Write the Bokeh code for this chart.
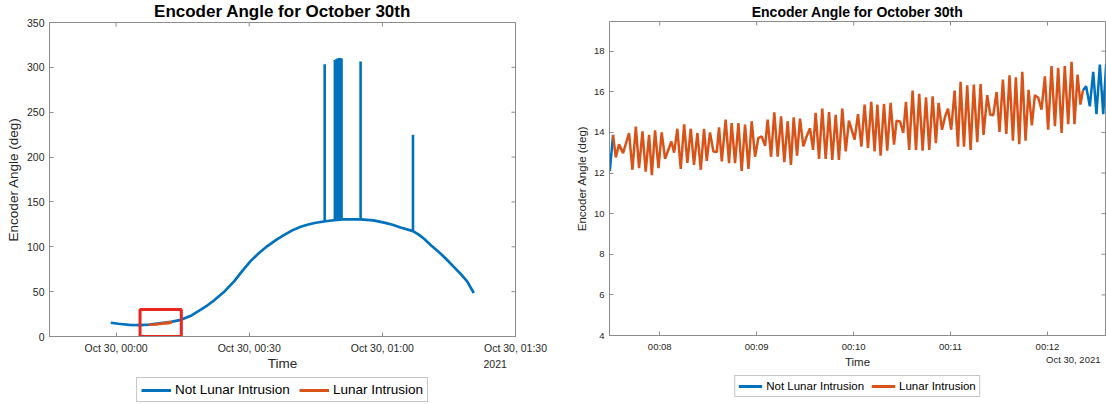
import numpy as np
from bokeh.plotting import figure
from bokeh.layouts import row, column
from bokeh.models import (Range1d, FixedTicker, DatetimeTickFormatter, Legend, LegendItem,
                          Label, Title)
from bokeh.embed import file_html
from bokeh.resources import INLINE

# ---------------- data ----------------
DAY = "2021-10-30T00:00:00"
TITLE = "Encoder Angle for October 30th"
SERIES = ["Not Lunar Intrusion", "Lunar Intrusion"]

# overview trace (minutes after Oct 30 00:00, degrees)
overview_min = [-1.2, 0.5, 3.0, 5.5, 7.5, 12.4, 14.6, 17.0, 19.1, 20.6, 22.1, 24.5, 26.6, 28.5,
                30.3, 32.2, 34.1, 36.0, 37.8, 39.7, 41.6, 43.3, 45.0, 48.0, 51.0, 55.0, 58.0,
                60.4, 62.3, 64.1, 66.9, 68.2, 69.4, 71.0, 73.1, 74.6, 76.1, 77.6, 79.1, 80.6]
overview_deg = [15.3, 14.2, 13.0, 12.6, 13.2, 16.3, 18.6, 23.5, 29.9, 34.8, 40.3, 50.5, 61.5, 73.5,
                84.0, 93.0, 100.8, 107.5, 113.0, 118.3, 122.3, 124.8, 126.8, 129.0, 130.5, 130.5,
                129.5, 126.9, 124.5, 121.5, 117.5, 113.5, 109.0, 101.5, 92.6, 85.3, 77.6, 70.0,
                61.5, 48.5]
# spikes in the overview trace
spike_min = [47.0, 49.3, 49.6, 49.9, 50.2, 50.5, 50.8, 55.1, 66.9]
spike_base_deg = [128.0, 129.5, 129.7, 130.0, 130.0, 130.0, 130.0, 130.5, 118.0]
spike_peak_deg = [303.5, 308.3, 309.0, 310.0, 310.5, 310.5, 310.0, 306.5, 225.0]

# detailed trace (seconds after 00:07:00, degrees)
ZOOM_ORIGIN_MIN = 7
pre_sec = [27.6, 29.1, 31.1]
pre_deg = [12.77, 12.11, 13.88]
lunar_sec = [31.1, 32.8, 34.8, 37.3, 41.0, 43.1, 45.2, 47.2, 49.3, 51.3,
             53.4, 55.1, 57.1, 59.2, 61.2, 63.3, 67.2, 68.9, 70.9, 73.0,
             75.1, 77.1, 79.2, 81.2, 83.3, 85.4, 87.4, 89.1, 91.1, 93.2,
             95.3, 96.7, 98.4, 100.8, 102.9,
             104.5, 106.6, 108.7, 110.7, 112.8, 114.9, 116.9, 119.0, 121.0, 123.1,
             125.2, 126.8, 128.9, 130.9, 133.0, 135.1, 137.1, 139.2, 141.2, 142.9,
             145.0, 146.8, 148.9, 150.9, 153.0, 154.9, 156.5, 158.6, 160.6, 162.7,
             164.8, 166.8, 168.9, 170.9, 173.0, 175.1, 177.1,
             180.6, 182.7, 184.8, 186.8, 188.9, 190.9, 193.0, 194.7, 196.7, 198.8,
             200.8, 202.9, 205.0, 206.6, 208.7, 210.7, 212.4, 214.4, 216.5, 218.6,
             220.6, 222.7, 224.8, 226.8, 228.9, 230.9, 232.6, 234.7, 236.7, 238.4,
             240.4, 242.5, 244.6, 246.2, 248.3, 250.3, 252.4, 254.4, 256.5,
             258.6, 260.4, 262.7, 264.6, 266.4, 268.5, 270.3, 272.4, 274.5, 276.5,
             278.6, 280.4, 282.5, 284.4, 286.4, 288.3, 290.3, 292.2, 294.3, 296.3,
             298.4, 300.4, 302.5, 304.6, 306.6, 308.7, 310.7, 312.8, 314.9, 316.7,
             318.6, 320.4, 321.9]
lunar_deg = [13.88, 12.77, 13.42, 12.98, 13.97, 12.16, 14.28, 12.24, 14.05, 12.07,
             13.88, 11.9, 14.1, 12.24, 14.0, 12.7, 13.55, 13.0, 14.18, 12.2,
             14.4, 12.5, 14.18, 12.4, 13.97, 12.16, 14.18, 12.6, 14.0, 13.06,
             13.03, 14.25, 12.57, 14.63, 12.49,
             14.46, 12.49, 14.46, 12.1, 14.38, 12.2, 14.55, 12.8, 13.72, 13.8,
             13.34, 14.63, 12.8, 14.99, 12.8, 14.79, 12.54, 14.55, 12.4, 14.74,
             12.86, 14.68, 13.31, 13.8, 14.2, 13.14, 14.96, 12.7, 15.17, 12.7,
             15.0, 12.65, 14.87, 12.65, 15.17, 13.06, 14.58,
             13.64, 14.9, 13.3, 15.37, 13.23, 15.5, 13.06, 15.37, 12.86, 15.4,
             13.1, 15.45, 13.4, 14.58, 14.54, 13.97, 15.5, 13.14, 16.06, 13.14,
             15.9, 13.1, 15.73, 13.14, 15.78, 13.47, 15.45, 14.13, 14.8, 15.17,
             14.13, 16.06, 13.3, 16.49, 13.3, 16.32, 13.14, 16.35, 13.52,
             16.38, 13.88, 15.83, 14.87, 14.84, 15.99, 14.02, 16.6, 13.92, 16.81,
             13.59, 16.71, 13.42, 16.98, 13.59, 16.1, 14.35, 15.83, 15.7, 15.12,
             16.76, 14.13, 17.26, 14.3, 17.18, 13.97, 17.26, 14.41, 17.47, 14.41,
             16.85, 15.37, 16.06]
post_sec = [321.9, 323.9, 326.2, 328.3, 330.3, 332.4, 334.5, 336.3]
post_deg = [16.06, 16.27, 15.28, 16.98, 14.9, 17.34, 14.9, 17.37]

# highlight box on the overview (minutes, degrees)
box_min = [5.4, 14.7]
box_deg = [0, 30]

# axes
left_xlim_min = [-15, 90]
left_xticks_min = [0, 30, 60, 90]
left_ylim = [0, 350]
left_yticks = [0, 50, 100, 150, 200, 250, 300, 350]
right_xlim_sec = [28.9, 335.9]
right_xticks_sec = [60, 120, 180, 240, 300]
right_ylim = [4, 19.46]
right_yticks = [4, 6, 8, 10, 12, 14, 16, 18]
X_LABEL = "Time"
Y_LABEL = "Encoder Angle (deg)"
YEAR_TEXT = "2021"
DATE_TEXT = "Oct 30, 2021"

# ---------------- helpers ----------------
BASE = float(np.datetime64(DAY, "ms").astype("int64"))


def from_min(vals):
    return [BASE + v * 60000.0 for v in vals]


def from_sec(vals):
    return [BASE + (ZOOM_ORIGIN_MIN * 60 + v) * 1000.0 for v in vals]


BLUE = "#0072BD"
ORANGE = "#D95319"
RED = "#E8281E"
AX = "#8c8c8c"
TXT = "#262626"
FONT = "Liberation Sans"


def fmt(f):
    return DatetimeTickFormatter(microseconds=f, milliseconds=f, seconds=f, minsec=f,
                                 minutes=f, hourmin=f, hours=f, days=f, months=f, years=f)


def style(p, tick_size, label_size):
    for ax in (p.xaxis[0], p.yaxis[0]):
        ax.axis_line_color = AX
        ax.major_tick_line_color = AX
        ax.minor_tick_line_color = None
        ax.major_tick_in = 4
        ax.major_tick_out = 0
        ax.major_label_text_font = FONT
        ax.major_label_text_font_size = tick_size
        ax.major_label_text_color = TXT
        ax.axis_label_text_font = FONT
        ax.axis_label_text_font_size = label_size
        ax.axis_label_text_font_style = "normal"
        ax.axis_label_text_color = TXT
        ax.major_label_standoff = 5
        ax.axis_label_standoff = 3
    p.xgrid.visible = False
    p.ygrid.visible = False
    p.outline_line_color = AX
    p.background_fill_color = "white"
    p.border_fill_color = "white"


def mirror_ticks(p, xticks, ytop, yticks, xright):
    # inward tick marks on the top and right edges of the box
    p.ray(x=xticks, y=ytop, length=4, length_units="screen", angle=-np.pi / 2,
          line_color=AX, line_width=1)
    p.ray(x=xright, y=yticks, length=4, length_units="screen", angle=np.pi,
          line_color=AX, line_width=1)


def add_title(p, size, standoff):
    t = Title(text=TITLE, align="center", text_font=FONT, text_font_size=size,
              text_font_style="bold", text_color="#000000", vertical_align="top")
    try:
        t.standoff = standoff
    except Exception:
        pass
    p.add_layout(t, "above")


def footer(width, height, left, right, page_x0, page_x1, page_y0, page_y1,
           legend_font, glyph_w, pad, spacing, leg_margin, blue_x, blue_y, orange_x, orange_y):
    # a strip under a chart; its data space equals page pixels (y grows downward)
    f = figure(width=width, height=height, output_backend="svg", toolbar_location=None,
               x_range=Range1d(page_x0, page_x1), y_range=Range1d(page_y1, page_y0),
               min_border_left=left, min_border_right=right, min_border_top=0,
               min_border_bottom=0)
    f.axis.visible = False
    f.xgrid.visible = False
    f.ygrid.visible = False
    f.outline_line_color = None
    f.background_fill_color = "white"
    f.border_fill_color = "white"
    rb = f.line(blue_x, blue_y, line_color=BLUE, line_width=3)
    ro = f.line(orange_x, orange_y, line_color=ORANGE, line_width=3)
    leg = Legend(items=[LegendItem(label=SERIES[0], renderers=[rb]),
                        LegendItem(label=SERIES[1], renderers=[ro])],
                 orientation="horizontal", location="bottom_center", margin=leg_margin,
                 padding=pad, spacing=spacing, glyph_width=glyph_w, glyph_height=14,
                 label_height=14, label_standoff=4, label_text_font=FONT,
                 label_text_font_size=legend_font, label_text_color="#000000",
                 border_line_color=AX, border_line_width=1, background_fill_color="white")
    f.add_layout(leg, "center")
    return f


# ---------------- left: overview ----------------
p1 = figure(width=555, height=356, x_axis_type="datetime", output_backend="svg",
            toolbar_location=None, title=None,
            x_range=Range1d(*from_min(left_xlim_min)), y_range=Range1d(*left_ylim),
            min_border_left=49, min_border_right=40, min_border_top=22, min_border_bottom=20)
style(p1, "10.5px", "13.5px")
p1.xaxis[0].ticker = FixedTicker(ticks=from_min(left_xticks_min))
p1.xaxis[0].formatter = fmt("%b %d, %H:%M")
p1.yaxis[0].ticker = FixedTicker(ticks=left_yticks)
p1.yaxis[0].axis_label = Y_LABEL
add_title(p1, "17px", 0)
mirror_ticks(p1, from_min(left_xticks_min), left_ylim[1], left_yticks, from_min(left_xlim_min)[1])

p1.line(from_min(overview_min), overview_deg, line_color=BLUE, line_width=2.7)
p1.segment(x0=from_min(spike_min), y0=spike_base_deg, x1=from_min(spike_min), y1=spike_peak_deg,
           line_color=BLUE, line_width=2.6)
p1.line([BASE + (ZOOM_ORIGIN_MIN * 60 + s) * 1000.0 for s in lunar_sec], lunar_deg,
        line_color=ORANGE, line_width=2.7)
p1.quad(left=from_min(box_min)[0], right=from_min(box_min)[1], bottom=box_deg[0], top=box_deg[1],
        fill_color=None, line_color=RED, line_width=3)

f1 = footer(555, 48, 49, 40, 49, 515, 356, 404, "13.5px", 30, 4, 9, 2,
            from_min(overview_min), overview_deg, from_sec(lunar_sec), lunar_deg)
f1.add_layout(Label(x=282, y=363, text=X_LABEL, text_align="center", text_baseline="middle",
                    text_font=FONT, text_font_size="13.5px", text_color=TXT))
f1.add_layout(Label(x=483, y=363, text=YEAR_TEXT, text_align="left", text_baseline="middle",
                    text_font=FONT, text_font_size="10.5px", text_color=TXT))

# ---------------- right: detail ----------------
p2 = figure(width=551, height=355, x_axis_type="datetime", output_backend="svg",
            toolbar_location=None, title=None,
            x_range=Range1d(*from_sec(right_xlim_sec)), y_range=Range1d(*right_ylim),
            min_border_left=54, min_border_right=1, min_border_top=21, min_border_bottom=20)
style(p2, "9.5px", "11.5px")
p2.xaxis[0].ticker = FixedTicker(ticks=from_sec(right_xticks_sec))
p2.xaxis[0].formatter = fmt("%H:%M")
p2.yaxis[0].ticker = FixedTicker(ticks=right_yticks)
p2.yaxis[0].axis_label = Y_LABEL
add_title(p2, "14px", 0)
mirror_ticks(p2, from_sec(right_xticks_sec), right_ylim[1], right_yticks, from_sec(right_xlim_sec)[1])

p2.line(from_sec(pre_sec), pre_deg, line_color=BLUE, line_width=2.5)
p2.line(from_sec(post_sec), post_deg, line_color=BLUE, line_width=2.5)
p2.line(from_sec(lunar_sec), lunar_deg, line_color=ORANGE, line_width=2.5)

f2 = footer(551, 49, 54, 1, 609, 1105, 355, 404, "11.5px", 24, 3, 7, 7,
            from_sec(post_sec), post_deg, from_sec(lunar_sec), lunar_deg)
f2.add_layout(Label(x=857, y=361, text=X_LABEL, text_align="center", text_baseline="middle",
                    text_font=FONT, text_font_size="11.5px", text_color=TXT))
f2.add_layout(Label(x=1100, y=359, text=DATE_TEXT, text_align="right", text_baseline="middle",
                    text_font=FONT, text_font_size="9.5px", text_color=TXT))

layout = row(column(p1, f1), column(p2, f2))
open("out.html", "w").write(file_html(layout, INLINE))
